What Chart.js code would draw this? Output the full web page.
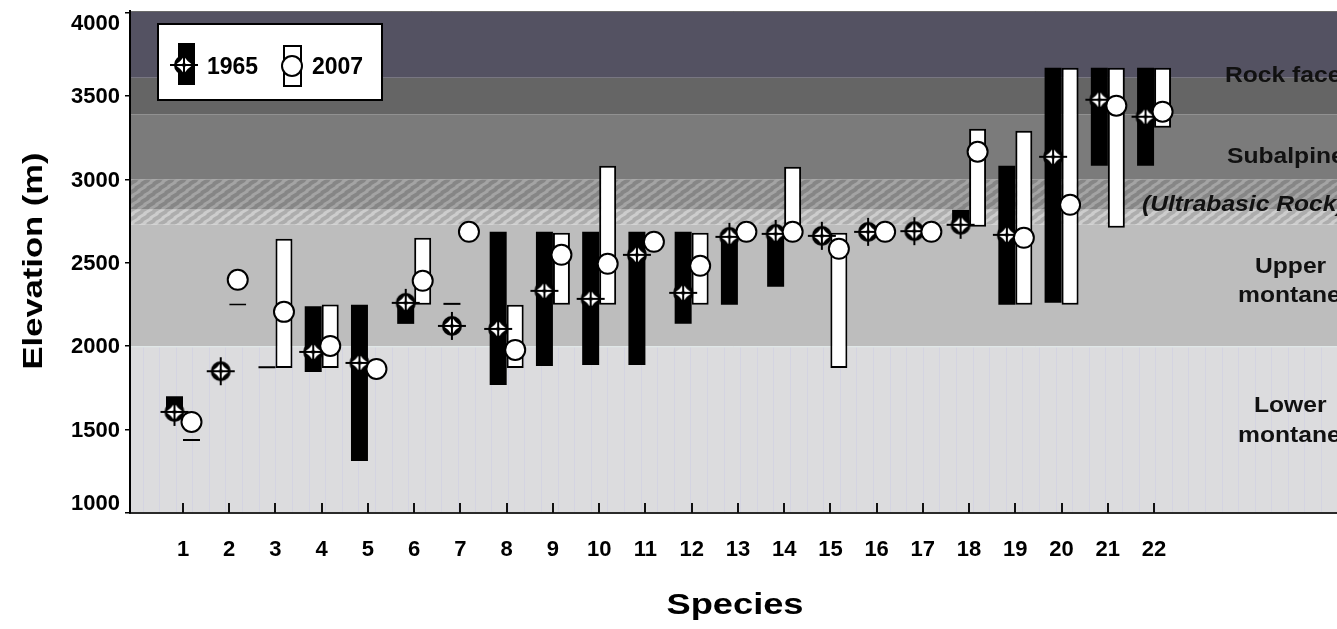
<!DOCTYPE html>
<html>
<head>
<meta charset="utf-8">
<title>Elevation ranges of species, 1965 and 2007</title>
<script src="https://cdn.jsdelivr.net/npm/chart.js@4/dist/chart.umd.min.js"></script>
<style>
  html, body { margin: 0; padding: 0; background: #fff; overflow: hidden; }
  canvas { display: block; }
</style>
</head>
<body>
<canvas id="chart" width="1337" height="629"></canvas>
<script>
// ---- data -------------------------------------------------------------
const species = [1, 2, 3, 4, 5, 6, 7, 8, 9, 10, 11, 12, 13, 14, 15, 16, 17, 18, 19, 20, 21, 22];

// 1965 survey: elevation range (low/high) and marker value, metres
const low1965  = [1610, null, 1868, 1846, 1312, 2134, 2248, 1768, 1882, 1888, 1888, 2134, 2248, 2356, null, null, null, 2728, 2248, 2260, 3082, 3082];
const high1965 = [1700, null, 1880, 2240, 2248, 2270, 2260, 2686, 2686, 2686, 2686, 2686, 2680, 2680, null, null, null, 2818, 3082, 3670, 3670, 3670];
const mark1965 = [1606, 1850, null, 1966, 1900, 2260, 2122, 2104, 2332, 2284, 2548, 2320, 2656, 2674, 2662, 2686, 2690, 2728, 2668, 3136, 3478, 3376];

// 2007 survey
const low2007  = [1432, 2244, 1870, 1870, null, 2248, null, 1870, 2248, 2248, null, 2248, null, 2686, 1870, null, null, 2716, 2248, 2248, 2710, 3310];
const high2007 = [1444, 2256, 2644, 2250, null, 2650, null, 2248, 2680, 3082, null, 2680, null, 3076, 2680, null, null, 3304, 3292, 3670, 3670, 3670];
const mark2007 = [1546, 2398, 2206, 2002, 1864, 2392, 2686, 1978, 2548, 2494, 2626, 2482, 2686, 2686, 2584, 2686, 2686, 3166, 2650, 2848, 3442, 3406];

const yTickValues = [1000, 1500, 2000, 2500, 3000, 3500, 4000];

// vegetation / substrate zones (elevation boundaries, m)
const zoneEdges = [1000, 2000, 2730, 2820, 3000, 3390, 3610, 4010];
const zoneNames = ['Rock face', 'Subalpine', '(Ultrabasic Rock)', 'Upper', 'montane', 'Lower', 'montane'];
const zoneNameElev = [3586, 3100, 2812, 2440, 2266, 1606, 1426];

// ---- styling ----------------------------------------------------------
const FONT = '"Liberation Sans", Arial, Helvetica, sans-serif';
const X_MIN = -0.146, X_MAX = 25.956;
const MARK_SHIFT = 0.184;           // markers sit over the middle of their bar half
const zoneLabelX = [1225, 1227, 1142, 1255, 1238, 1254, 1238];

function makeHatch(base, dash) {
  const t = document.createElement('canvas');
  t.width = 12; t.height = 9;
  const g = t.getContext('2d');
  g.fillStyle = base; g.fillRect(0, 0, 12, 9);
  g.strokeStyle = dash; g.lineWidth = 3; g.lineCap = 'round';
  for (const [ox, oy] of [[0, 0], [6, 4.5], [-6, 4.5], [6, -4.5], [-6, -4.5], [12, 0], [-12, 0], [0, 9], [0, -9]]) {
    g.beginPath(); g.moveTo(1 + ox, 6 + oy); g.lineTo(7 + ox, 2.5 + oy); g.stroke();
  }
  return t;
}

// 1965 marker: ringed disc with a white four-point star and a crosshair
function makeStarMarker() {
  const s = 32, c = 16;
  const cv = document.createElement('canvas');
  cv.width = s; cv.height = s;
  const g = cv.getContext('2d');
  g.fillStyle = '#000';
  g.beginPath(); g.arc(c, c, 10, 0, Math.PI * 2); g.fill();
  const t = 8.6, k = 3.4;
  g.fillStyle = '#fff';
  g.beginPath();
  g.moveTo(c, c - t);
  g.quadraticCurveTo(c + k, c - k, c + t, c);
  g.quadraticCurveTo(c + k, c + k, c, c + t);
  g.quadraticCurveTo(c - k, c + k, c - t, c);
  g.quadraticCurveTo(c - k, c - k, c, c - t);
  g.fill();
  g.strokeStyle = '#000'; g.lineWidth = 2;
  g.beginPath();
  g.moveTo(c - 14, c); g.lineTo(c + 14, c);
  g.moveTo(c, c - 14); g.lineTo(c, c + 14);
  g.stroke();
  g.fillStyle = '#000';
  g.beginPath(); g.arc(c, c, 2, 0, Math.PI * 2); g.fill();
  return cv;
}

const starMarker = makeStarMarker();

function stretchText(ctx, text, x, y, sx, align) {
  ctx.save();
  ctx.translate(x, y);
  ctx.scale(sx, 1);
  ctx.textAlign = align;
  ctx.fillText(text, 0, 0);
  ctx.restore();
}

// ---- datasets ---------------------------------------------------------
const barData = (lo, hi) => species
  .map((s, i) => (lo[i] == null ? null : { x: s, y: [lo[i], hi[i]] }))
  .filter(Boolean);
const markData = (vals, shift) => species
  .map((s, i) => (vals[i] == null ? null : { x: s + shift, y: vals[i] }))
  .filter(Boolean);

// ---- plugins ----------------------------------------------------------
const zonePlugin = {
  id: 'zones',
  beforeDraw(chart) {
    const { ctx, chartArea: a, scales: { y } } = chart;
    ctx.save();
    ctx.fillStyle = '#fff';
    ctx.fillRect(0, 0, chart.width, chart.height);
    const fills = ['#dcdcde', '#bdbdbd',
      ctx.createPattern(makeHatch('#adadad', '#cdcdcd'), 'repeat'),
      ctx.createPattern(makeHatch('#868686', '#a4a4a4'), 'repeat'),
      '#7b7b7b', '#656565', '#545262'];
    for (let i = 0; i < fills.length; i++) {
      const yTop = Math.max(a.top, y.getPixelForValue(zoneEdges[i + 1]));
      const yBot = y.getPixelForValue(zoneEdges[i]);
      ctx.fillStyle = fills[i];
      ctx.fillRect(a.left, yTop, a.right - a.left, yBot - yTop);
    }
    // faint scan stripes in the lowest zone
    const y2000 = y.getPixelForValue(2000);
    ctx.strokeStyle = 'rgba(205,205,228,0.55)';
    ctx.lineWidth = 1;
    for (let x = a.left + 12.5; x < a.right; x += 16.6) {
      ctx.beginPath(); ctx.moveTo(Math.round(x) + 0.5, y2000 + 1); ctx.lineTo(Math.round(x) + 0.5, a.bottom); ctx.stroke();
    }
    ctx.strokeStyle = '#e2ebeb';
    ctx.beginPath(); ctx.moveTo(a.left, y2000 + 0.5); ctx.lineTo(a.right, y2000 + 0.5); ctx.stroke();
    // top edge of the plot
    ctx.strokeStyle = '#6a6a6a';
    ctx.beginPath(); ctx.moveTo(a.left, a.top + 0.5); ctx.lineTo(a.right, a.top + 0.5); ctx.stroke();
    // zone names
    ctx.fillStyle = '#111';
    ctx.textBaseline = 'alphabetic';
    zoneNames.forEach((name, i) => {
      ctx.font = (name.startsWith('(') ? 'italic ' : '') + 'bold 22px ' + FONT;
      stretchText(ctx, name, zoneLabelX[i], y.getPixelForValue(zoneNameElev[i]), 1.12, 'left');
    });
    ctx.restore();
  },
  afterDraw(chart) {
    const { ctx, chartArea: a, scales: { x, y } } = chart;
    ctx.save();
    // inward tick marks on the species axis
    ctx.strokeStyle = '#111';
    ctx.lineWidth = 2;
    species.forEach(s => {
      const px = Math.round(x.getPixelForValue(s));
      ctx.beginPath(); ctx.moveTo(px, a.bottom - 10); ctx.lineTo(px, a.bottom); ctx.stroke();
    });
    // elevation tick labels
    ctx.fillStyle = '#000';
    ctx.font = 'bold 22px ' + FONT;
    ctx.textAlign = 'right';
    ctx.textBaseline = 'middle';
    yTickValues.forEach(v => {
      const py = Math.min(Math.max(y.getPixelForValue(v), a.top + 12), a.bottom - 10);
      ctx.fillText(String(v), 120, py + 1);
    });
    // axis titles
    ctx.font = 'bold 27px ' + FONT;
    ctx.textBaseline = 'middle';
    ctx.save();
    ctx.translate(35, (a.top + a.bottom) / 2 - 1);
    ctx.rotate(-Math.PI / 2);
    ctx.scale(1.28, 1);
    ctx.textAlign = 'center';
    ctx.fillText('Elevation (m)', 0, 0);
    ctx.restore();
    ctx.font = 'bold 29px ' + FONT;
    ctx.textBaseline = 'alphabetic';
    stretchText(ctx, 'Species', 735, 614, 1.25, 'center');
    // legend
    ctx.fillStyle = '#fff';
    ctx.fillRect(158, 24, 224, 76);
    ctx.strokeStyle = '#000';
    ctx.lineWidth = 2;
    ctx.strokeRect(158, 24, 224, 76);
    ctx.fillStyle = '#000';
    ctx.fillRect(178, 43, 17, 42);
    ctx.drawImage(starMarker, 184 - 16, 65 - 16);
    ctx.fillStyle = '#fff';
    ctx.fillRect(284, 46, 17, 40);
    ctx.strokeRect(284, 46, 17, 40);
    ctx.beginPath(); ctx.arc(292, 66, 10, 0, Math.PI * 2); ctx.fill(); ctx.stroke();
    ctx.fillStyle = '#000';
    ctx.font = 'bold 23px ' + FONT;
    ctx.textAlign = 'left';
    ctx.textBaseline = 'alphabetic';
    ctx.fillText('1965', 207, 74);
    ctx.fillText('2007', 312, 74);
    ctx.restore();
  }
};

// ---- chart ------------------------------------------------------------
new Chart(document.getElementById('chart'), {
  type: 'bar',
  data: {
    datasets: [
      {
        type: 'scatter', label: '2007', order: 0,
        data: markData(mark2007, MARK_SHIFT),
        pointStyle: 'circle', pointRadius: 10,
        pointBackgroundColor: '#fff', pointBorderColor: '#000', pointBorderWidth: 2
      },
      {
        type: 'scatter', label: '1965', order: 1,
        data: markData(mark1965, -MARK_SHIFT),
        pointStyle: starMarker, pointRadius: 11
      },
      {
        label: '1965', order: 2,
        data: barData(low1965, high1965),
        backgroundColor: '#000', borderWidth: 0,
        categoryPercentage: 0.735, barPercentage: 1
      },
      {
        label: '2007', order: 2,
        data: barData(low2007, high2007),
        backgroundColor: '#fff', borderColor: '#000', borderWidth: 2, borderSkipped: false,
        categoryPercentage: 0.735, barPercentage: 1
      }
    ]
  },
  options: {
    responsive: false,
    animation: false,
    devicePixelRatio: 1,
    layout: { autoPadding: false, padding: { top: 11, right: 0, bottom: 0, left: 0 } },
    plugins: { legend: { display: false }, tooltip: { enabled: false } },
    scales: {
      x: {
        type: 'linear', min: X_MIN, max: X_MAX, offset: false,
        afterBuildTicks: s => { s.ticks = species.map(v => ({ value: v })); },
        afterFit: s => { s.height = 116; s.paddingLeft = 0; s.paddingRight = 0; },
        grid: { display: false, drawTicks: false },
        border: { display: true, color: '#2a2a2a', width: 2 },
        ticks: {
          autoSkip: false, maxRotation: 0, minRotation: 0, padding: 24,
          color: '#000', font: { family: FONT, size: 22, weight: 'bold' },
          callback: v => String(v)
        }
      },
      y: {
        min: 1000, max: 4010,
        afterBuildTicks: s => { s.ticks = yTickValues.map(v => ({ value: v })); },
        afterFit: s => { s.width = 130; s.paddingTop = 0; s.paddingBottom = 0; },
        grid: { drawOnChartArea: false, drawTicks: true, tickLength: 5, color: '#000', lineWidth: 1.5 },
        border: { display: true, color: '#000', width: 2 },
        ticks: { display: false }
      }
    }
  },
  plugins: [zonePlugin]
});
</script>
</body>
</html>
